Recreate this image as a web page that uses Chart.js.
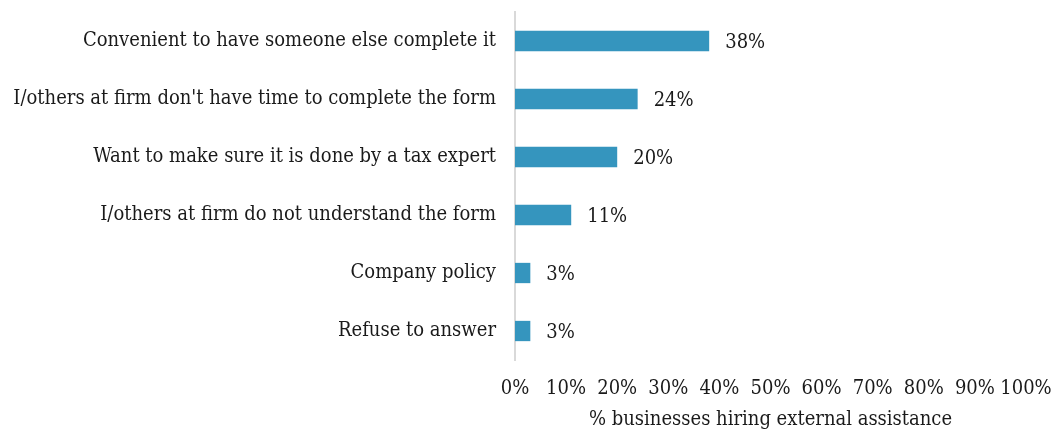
<!DOCTYPE html>
<html>
<head>
<meta charset="utf-8">
<script src="https://cdn.jsdelivr.net/npm/chart.js@4"></script>
<style>
  html, body { margin: 0; padding: 0; background: #fff; }
  #wrap { width: 1058px; height: 430px; }
</style>
</head>
<body>
<div id="wrap"><canvas id="reasonsChart" width="1058" height="430"></canvas></div>
<script>
// ===== Survey Data =====
const reasons = [
  "Convenient to have someone else complete it",
  "I/others at firm don't have time to complete the form",
  "Want to make sure it is done by a tax expert",
  "I/others at firm do not understand the form",
  "Company policy",
  "Refuse to answer"
];
const shares = [38, 24, 20, 11, 3, 3];
const axisTitle = "% businesses hiring external assistance";

const FONT = "'DejaVu Serif Condensed', 'DejaVu Serif', serif";
const SIZE = 20;

// Value labels drawn just past the end of each bar
const valueLabels = {
  id: "valueLabels",
  afterDatasetsDraw(chart) {
    const ctx = chart.ctx;
    const meta = chart.getDatasetMeta(0);
    ctx.save();
    ctx.font = SIZE + "px " + FONT;
    ctx.fillStyle = "#1a1a1a";
    ctx.textAlign = "left";
    ctx.textBaseline = "middle";
    meta.data.forEach((bar, i) => {
      ctx.fillText(shares[i] + "%", bar.x + 16, bar.y + 2);
    });
    ctx.restore();
  }
};

const ctx = document.getElementById("reasonsChart").getContext("2d");
new Chart(ctx, {
  type: "bar",
  data: {
    labels: reasons,
    datasets: [{
      data: shares,
      backgroundColor: "#3595be",
      categoryPercentage: 1,
      barPercentage: 0.35
    }]
  },
  plugins: [valueLabels],
  options: {
    indexAxis: "y",
    responsive: false,
    animation: false,
    layout: { padding: { top: 12, right: 32, bottom: 0, left: 0 } },
    plugins: {
      legend: { display: false },
      tooltip: { enabled: false }
    },
    scales: {
      x: {
        min: 0,
        max: 100,
        grid: { display: false, drawTicks: false },
        border: { display: false },
        ticks: {
          stepSize: 10,
          padding: 17,
          maxRotation: 0,
          autoSkip: false,
          color: "#1a1a1a",
          font: { family: FONT, size: SIZE },
          callback: v => v + "%"
        },
        title: {
          display: true,
          text: axisTitle,
          color: "#1a1a1a",
          font: { family: FONT, size: SIZE },
          padding: { top: 0, bottom: -2 }
        },
        afterFit(scale) {
          scale.height = 70;
          scale.paddingLeft = 0;
          scale.paddingRight = 0;
        }
      },
      y: {
        grid: { display: false, drawTicks: false },
        border: { display: true, color: "#d9d9d9", width: 2 },
        ticks: {
          padding: 19,
          color: "#1a1a1a",
          font: { family: FONT, size: SIZE }
        },
        afterFit(scale) {
          scale.width = 515;
          scale.paddingTop = 0;
          scale.paddingBottom = 0;
        }
      }
    }
  }
});
</script>
</body>
</html>
